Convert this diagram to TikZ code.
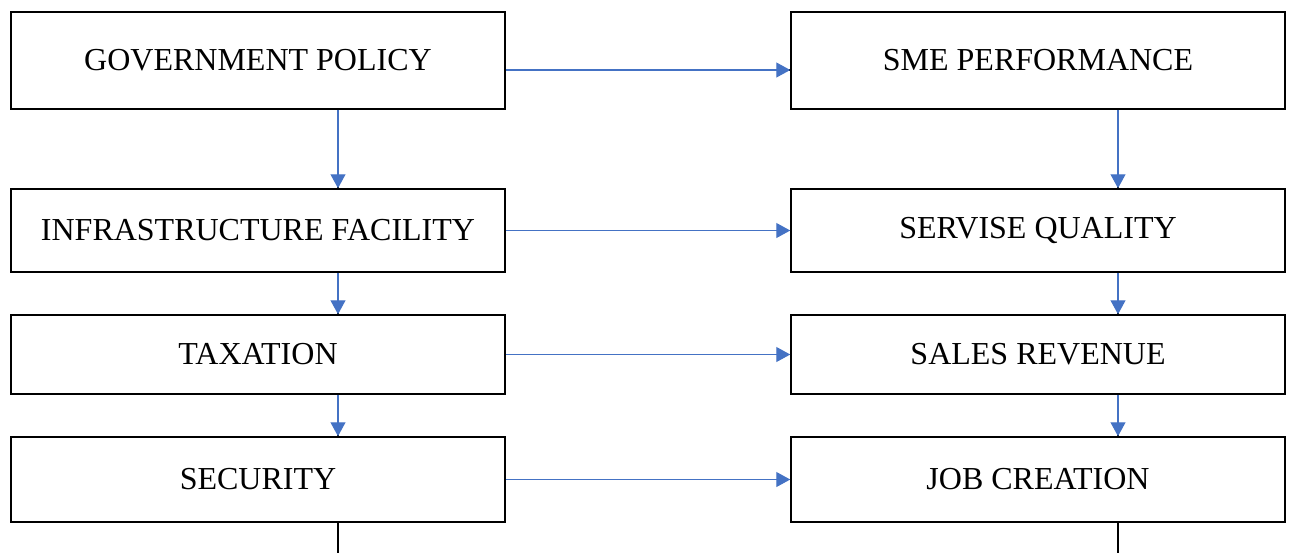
\documentclass[tikz,border=0pt]{standalone}
\usepackage{fontspec}
\setmainfont{Liberation Serif}
\usepackage{tikz}
\usetikzlibrary{arrows.meta}
\usetikzlibrary{calc}
\definecolor{linkblue}{HTML}{4472C4}

\begin{document}
\begin{tikzpicture}[x=0.5pt,y=-0.5pt,
  box/.style={draw=black, line width=0.75pt, minimum width=247pt, inner sep=0pt, font=\fontsize{16}{19}\selectfont},
  back/.style={draw=black, line width=0.6pt},
  link/.style={draw=linkblue, line width=0.6pt, -{Triangle[width=7.5pt,length=7pt]}}]
\useasboundingbox (0,0) rectangle (1294,553);
% left column
\node[box, minimum height=48.5pt] (gov)   at (258,60.5)  {GOVERNMENT POLICY};
\node[box, minimum height=41.5pt] (infra) at (258,230.5) {INFRASTRUCTURE FACILITY};
\node[box, minimum height=39.5pt] (tax)   at (258,354.5) {TAXATION};
\node[box, minimum height=42.5pt] (sec)   at (258,479.5) {SECURITY};
% right column
\node[box, minimum height=48.5pt] (sme)   at (1038,60.5)  {SME PERFORMANCE};
\node[box, minimum height=41.5pt] (serv)  at (1038,230.5) {SERVISE QUALITY};
\node[box, minimum height=39.5pt] (sales) at (1038,354.5) {SALES REVENUE};
\node[box, minimum height=42.5pt] (job)   at (1038,479.5) {JOB CREATION};
\coordinate (endl) at (338,553);
\coordinate (endr) at (1118,553);
% down the columns
\foreach \a/\b in {gov/infra, infra/tax, tax/sec, sme/serv, serv/sales, sales/job}
{
   \draw[back] ([xshift=40pt]\a.south) -- ([xshift=40pt]\b.north);
   \draw[link] ([xshift=40pt]\a.south) -- ([xshift=40pt]\b.north);
}
% across the rows
\draw[back] ([yshift=-4.75pt]gov.east) -- ([yshift=-4.75pt]sme.west);
\draw[link] ([yshift=-4.75pt]gov.east) -- ([yshift=-4.75pt]sme.west);
\foreach \a/\b in {infra/serv, tax/sales, sec/job}
{
   \draw[back] (\a.east) -- (\b.west);
   \draw[link] (\a.east) -- (\b.west);
}
\draw[back] ([xshift=40pt]sec.south) -- (endl);
\draw[back] ([xshift=40pt]job.south) -- (endr);
\end{tikzpicture}
\end{document}
